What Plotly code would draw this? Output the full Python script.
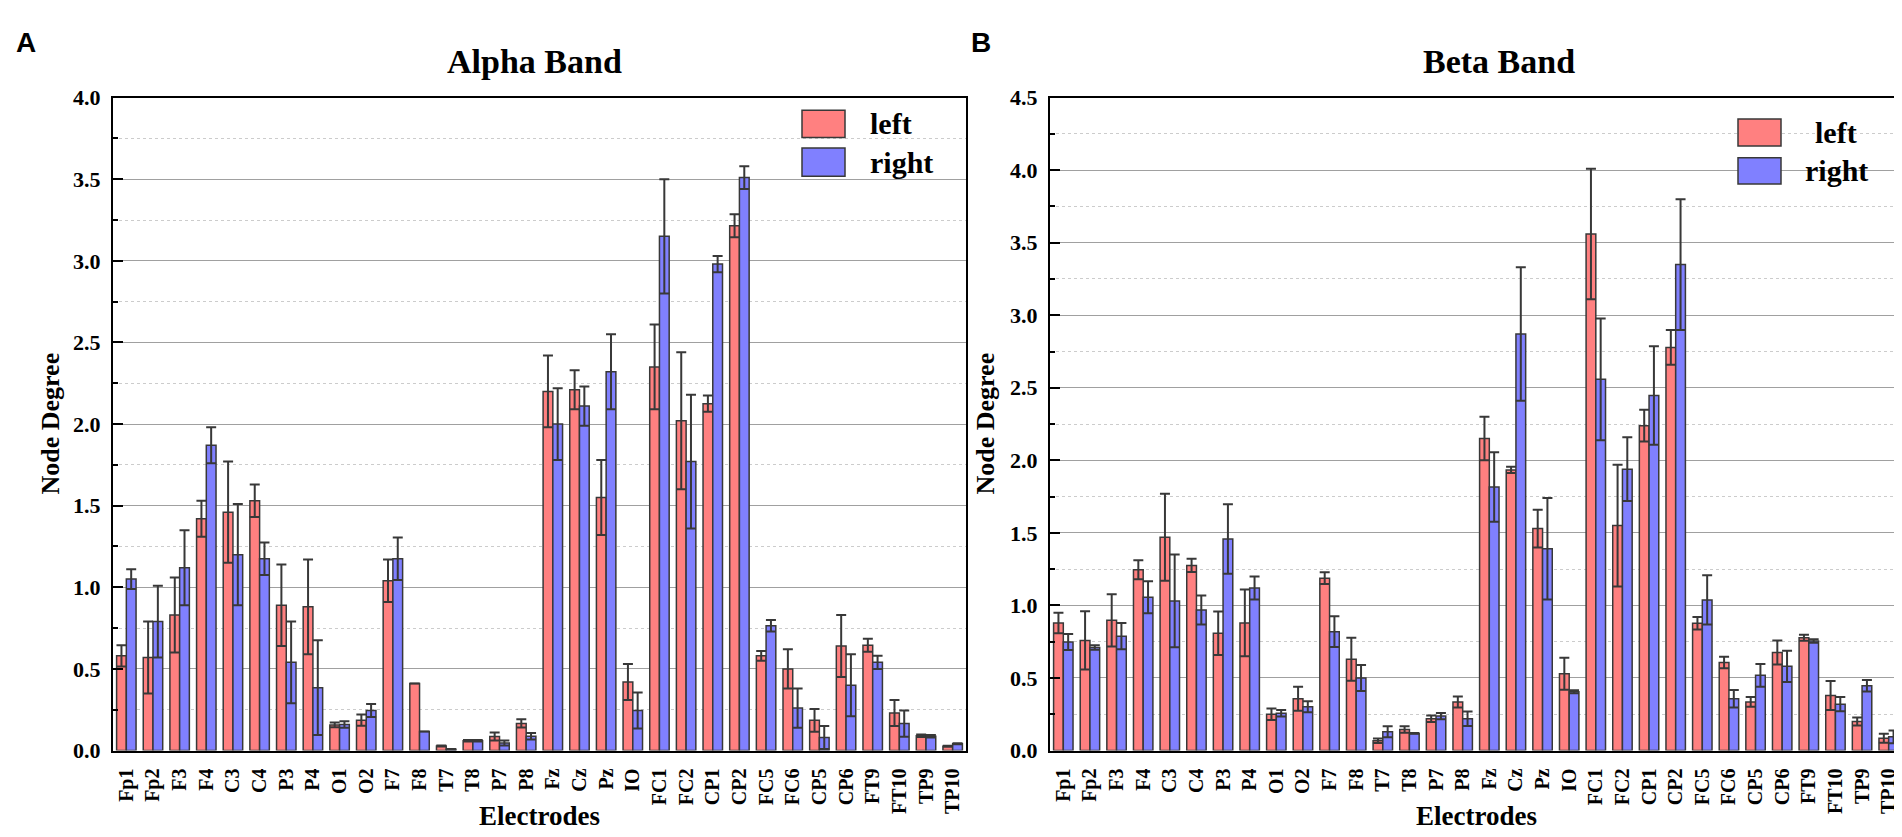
import plotly.graph_objects as go

W, H = 1902, 837
RED, BLUE, EDGE = "#ff8080", "#8080ff", "#383838"
SERIF = "Liberation Serif"

electrodes = ["Fp1", "Fp2", "F3", "F4", "C3", "C4", "P3", "P4", "O1", "O2",
              "F7", "F8", "T7", "T8", "P7", "P8", "Fz", "Cz", "Pz", "IO",
              "FC1", "FC2", "CP1", "CP2", "FC5", "FC6", "CP5", "CP6", "FT9",
              "FT10", "TP9", "TP10"]

# Alpha band (panel A)
alpha_left = [0.58, 0.57, 0.83, 1.42, 1.46, 1.53, 0.89, 0.88, 0.157, 0.186,
              1.04, 0.41, 0.028, 0.06, 0.086, 0.166, 2.20, 2.21, 1.55, 0.42,
              2.35, 2.02, 2.125, 3.215, 0.58, 0.50, 0.185, 0.64, 0.645,
              0.23, 0.09, 0.026]
alpha_left_err = [0.065, 0.22, 0.23, 0.11, 0.31, 0.10, 0.25, 0.29, 0.015, 0.035,
                  0.13, 0.0, 0.003, 0.005, 0.025, 0.025, 0.22, 0.12, 0.23, 0.11,
                  0.26, 0.42, 0.05, 0.07, 0.03, 0.12, 0.07, 0.19, 0.04,
                  0.08, 0.008, 0.003]
alpha_right = [1.05, 0.79, 1.12, 1.87, 1.20, 1.175, 0.54, 0.385, 0.16, 0.245,
               1.175, 0.117, 0.008, 0.06, 0.046, 0.087, 2.00, 2.11, 2.32, 0.245,
               3.15, 1.77, 2.98, 3.51, 0.764, 0.26, 0.08, 0.40, 0.54,
               0.165, 0.087, 0.042]
alpha_right_err = [0.06, 0.22, 0.23, 0.11, 0.31, 0.10, 0.25, 0.29, 0.02, 0.04,
                   0.13, 0.0, 0.002, 0.005, 0.015, 0.02, 0.22, 0.12, 0.23, 0.11,
                   0.35, 0.41, 0.05, 0.07, 0.035, 0.12, 0.07, 0.19, 0.04,
                   0.08, 0.008, 0.003]

# Beta band (panel B)
beta_left = [0.879, 0.759, 0.897, 1.246, 1.47, 1.276, 0.808, 0.879, 0.25, 0.357,
             1.188, 0.629, 0.067, 0.145, 0.219, 0.335, 2.15, 1.934, 1.53, 0.529,
             3.56, 1.55, 2.239, 2.778, 0.877, 0.607, 0.335, 0.676, 0.777,
             0.379, 0.20, 0.085]
beta_left_err = [0.07, 0.20, 0.18, 0.065, 0.30, 0.045, 0.15, 0.23, 0.04, 0.083,
                 0.04, 0.148, 0.016, 0.022, 0.022, 0.038, 0.15, 0.022, 0.13, 0.11,
                 0.45, 0.42, 0.11, 0.12, 0.043, 0.04, 0.033, 0.083, 0.02,
                 0.10, 0.027, 0.031]
beta_right = [0.748, 0.71, 0.788, 1.056, 1.031, 0.969, 1.458, 1.12, 0.257, 0.301,
              0.819, 0.50, 0.129, 0.118, 0.237, 0.219, 1.816, 2.87, 1.39, 0.405,
              2.558, 1.939, 2.447, 3.349, 1.038, 0.357, 0.518, 0.58, 0.754,
              0.319, 0.446, 0.094]
beta_right_err = [0.055, 0.015, 0.09, 0.11, 0.32, 0.10, 0.24, 0.08, 0.022, 0.038,
                  0.106, 0.09, 0.038, 0.003, 0.022, 0.05, 0.24, 0.46, 0.35, 0.01,
                  0.42, 0.22, 0.34, 0.45, 0.17, 0.06, 0.078, 0.107, 0.012,
                  0.049, 0.04, 0.044]


def px(x):
    return x / W


def py(y):
    return 1 - y / H


fig = go.Figure()


def add_pair(xa, ya, left, left_err, right, right_err):
    for name, vals, err, col in (("left", left, left_err, RED),
                                 ("right", right, right_err, BLUE)):
        fig.add_trace(go.Bar(
            x=electrodes, y=vals, name=name, xaxis=xa, yaxis=ya, showlegend=False,
            marker=dict(color=col, line=dict(color=EDGE, width=1.5)),
            error_y=dict(type="data", array=err, color=EDGE, thickness=2, width=5)))


add_pair("x", "y", alpha_left, alpha_left_err, alpha_right, alpha_right_err)
add_pair("x2", "y2", beta_left, beta_left_err, beta_right, beta_right_err)

tick_font = dict(family=SERIF, size=22, color="black", weight="bold")


def xax(x0, x1, anchor):
    return dict(domain=[px(x0), px(x1)], type="category", range=[-0.5, 31.5],
                tickangle=-90, ticks="", showline=True, linewidth=2, linecolor="black",
                mirror=True, showgrid=False, zeroline=False, anchor=anchor,
                ticklabelstandoff=8,
                tickfont=dict(family=SERIF, size=20, color="black", weight="bold"))


def yax(top, anchor):
    return dict(domain=[py(753), py(80)], range=[0, top], dtick=0.5, tickformat=".1f",
                ticks="inside", ticklen=10, tickwidth=2, tickcolor="black",
                showline=True, linewidth=2, linecolor="black", mirror=True,
                showgrid=True, gridcolor="#a0a0a0", gridwidth=1, zeroline=False,
                minor=dict(dtick=0.25, ticks="inside", ticklen=5, tickwidth=2,
                           tickcolor="black", showgrid=True, gridcolor="#cccccc",
                           griddash="dot", gridwidth=1),
                anchor=anchor, ticklabelstandoff=6, tickfont=tick_font)


fig.update_layout(
    width=W, height=H, margin=dict(l=0, r=0, t=0, b=0),
    paper_bgcolor="white", plot_bgcolor="white",
    bargap=0.27, bargroupgap=0, barmode="group",
    xaxis=xax(105, 958, "y"), yaxis=yax(4.0, "x"),
    xaxis2=xax(1042, 1894, "y2"), yaxis2=yax(4.5, "x2"),
)


def text(x, y, s, size, family=SERIF, xanchor="center", angle=0):
    fig.add_annotation(x=px(x), y=py(y), xref="paper", yref="paper", text=s,
                       showarrow=False, xanchor=xanchor, yanchor="middle", textangle=angle,
                       font=dict(family=family, size=size, color="black", weight="bold"))


# panel letters, titles, axis titles
text(18, 23, "A", 28, family="Liberation Sans")
text(973, 23, "B", 28, family="Liberation Sans")
text(526, 43, "Alpha Band", 34)
text(1491, 43, "Beta Band", 34)
text(531, 820, "Electrodes", 27)
text(1468, 820, "Electrodes", 27)
text(43, 416, "Node Degree", 26, angle=-90)
text(978, 416, "Node Degree", 26, angle=-90)


# legends drawn as boxes + labels
def legend_item(x0, x1, y0, y1, col, label, tx, xanchor):
    fig.add_shape(type="rect", xref="paper", yref="paper",
                  x0=px(x0), x1=px(x1), y0=py(y1), y1=py(y0),
                  fillcolor=col, line=dict(color=EDGE, width=1.5))
    text(tx, (y0 + y1) / 2, label, 30, xanchor=xanchor)


legend_item(794, 837, 93, 121, RED, "left", 860, "left")
legend_item(794, 837, 132, 161, BLUE, "right", 860, "left")
legend_item(1730, 1773, 102, 130, RED, "left", 1828, "center")
legend_item(1730, 1773, 142, 169, BLUE, "right", 1828, "center")

fig.write_html("out.html")
